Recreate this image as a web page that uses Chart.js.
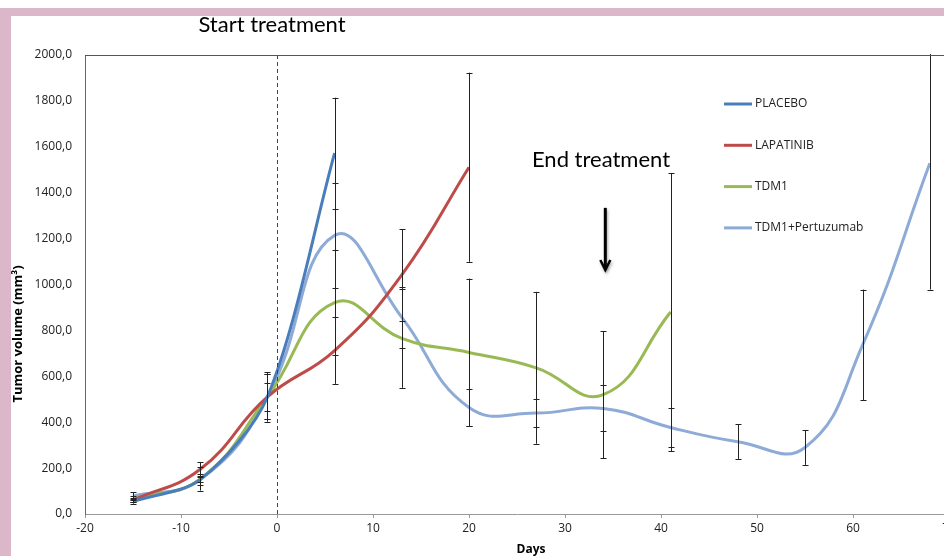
<!DOCTYPE html>
<html>
<head>
<meta charset="utf-8">
<script src="https://cdn.jsdelivr.net/npm/chart.js@4/dist/chart.umd.min.js"></script>
<style>
  html, body { margin: 0; padding: 0; background: #fff; }
  #wrap { position: relative; width: 944px; height: 556px; overflow: hidden; }
  .pink { position: absolute; background: #dcb7c9; }
  canvas { position: absolute; left: 0; top: 0; }
</style>
</head>
<body>
<div id="wrap">
  <div class="pink" style="left:0;top:8px;width:944px;height:8px"></div>
  <div class="pink" style="left:0;top:8px;width:11px;height:548px"></div>
  <canvas id="myChart" width="960" height="556"></canvas>
</div>
<script>
// days of measurement
const days = [-15, -8, -1, 6, 13, 20, 27, 34, 41, 48, 55, 61, 68];

// mean tumor volume (mm3) per group
const placebo = [55, 150, 510, 1572];
const lapatinib = [60, 195, 510, 712, 1042, 1511];
const tdm1 = [65, 153, 510, 921, 765, 704, 637, 520, 880];
const tdm1Pertuzumab = [78, 150, 510, 1214, 857, 464, 440, 460, 377, 315, 290, 737, 1528];

// error bar (+/-) per point
const placeboErr = [10, 25, 62, 242];
const lapatinibErr = [8, 30, 108, 145, 200, 412];
const tdm1Err = [12, 51, 98, 229, 215, 322, 331, 276, 606];
const tdm1PertuzumabErr = [16, 10, 98, 229, 133, 82, 62, 100, 86, 75, 76, 241, 550];

const names = ['PLACEBO', 'LAPATINIB', 'TDM1', 'TDM1+Pertuzumab'];
const colors = ['#4a7ebb', '#be4b48', '#98b954', '#8eaad6'];
const tensions = [0.3, 0.45, 0.45, 0.45];

const treatmentStart = 0;
const treatmentEnd = 34.2;

const series = [placebo, lapatinib, tdm1, tdm1Pertuzumab];
const errors = [placeboErr, lapatinibErr, tdm1Err, tdm1PertuzumabErr];

const fmt = (v) => v.toFixed(1).replace('.', ',');

const annotations = {
    id: 'annotations',
    afterDatasetsDraw(chart) {
        const { ctx, chartArea, scales: { x, y } } = chart;

        // error bars
        ctx.save();
        ctx.beginPath();
        ctx.rect(chartArea.left, chartArea.top - 1, chartArea.right - chartArea.left, chartArea.bottom - chartArea.top + 2);
        ctx.clip();
        ctx.strokeStyle = '#222';
        ctx.lineWidth = 1;
        series.forEach((vals, s) => {
            vals.forEach((v, i) => {
                const px = Math.round(x.getPixelForValue(days[i])) + 0.5;
                const top = y.getPixelForValue(v + errors[s][i]);
                const bot = y.getPixelForValue(v - errors[s][i]);
                ctx.beginPath();
                ctx.moveTo(px, top);
                ctx.lineTo(px, bot);
                ctx.moveTo(px - 3, Math.round(top) + 0.5);
                ctx.lineTo(px + 3, Math.round(top) + 0.5);
                ctx.moveTo(px - 3, Math.round(bot) + 0.5);
                ctx.lineTo(px + 3, Math.round(bot) + 0.5);
                ctx.stroke();
            });
        });
        ctx.restore();

        // start of treatment
        ctx.save();
        const sx = Math.round(x.getPixelForValue(treatmentStart)) + 0.5;
        ctx.strokeStyle = '#444';
        ctx.lineWidth = 1;
        ctx.setLineDash([4, 3]);
        ctx.beginPath();
        ctx.moveTo(sx, chartArea.top);
        ctx.lineTo(sx, chartArea.bottom);
        ctx.stroke();
        ctx.restore();

        // plot box top line
        ctx.save();
        ctx.strokeStyle = '#555';
        ctx.lineWidth = 1;
        ctx.beginPath();
        ctx.moveTo(chartArea.left, chartArea.top + 0.5);
        ctx.lineTo(chartArea.right, chartArea.top + 0.5);
        ctx.stroke();
        ctx.restore();

        // end of treatment arrow
        ctx.save();
        const ax = x.getPixelForValue(treatmentEnd);
        const ay1 = y.getPixelForValue(1334);
        const ay2 = y.getPixelForValue(1063);
        ctx.shadowColor = 'rgba(0,0,0,0.35)';
        ctx.shadowBlur = 3;
        ctx.shadowOffsetX = 1;
        ctx.shadowOffsetY = 2;
        ctx.strokeStyle = '#000';
        ctx.lineWidth = 3;
        ctx.beginPath();
        ctx.moveTo(ax, ay1);
        ctx.lineTo(ax, ay2 - 2);
        ctx.stroke();
        ctx.lineWidth = 2.5;
        ctx.beginPath();
        ctx.moveTo(ax - 5, ay2 - 10);
        ctx.lineTo(ax, ay2);
        ctx.lineTo(ax + 5, ay2 - 10);
        ctx.stroke();
        ctx.restore();

        // texts
        ctx.save();
        ctx.fillStyle = '#000';
        ctx.font = '22px Lato';
        ctx.textAlign = 'center';
        ctx.textBaseline = 'middle';
        ctx.fillText('Start treatment', 272, 25);
        ctx.fillText('End treatment', 601, 160);

        ctx.font = 'bold 12px "Open Sans"';
        ctx.fillText('Days', 531, 550);

        ctx.font = 'bold 13px "Open Sans"';
        ctx.translate(18, 334);
        ctx.rotate(-Math.PI / 2);
        ctx.fillText('Tumor volume (mm³)', 0, 0);
        ctx.restore();

        // legend
        ctx.save();
        ctx.font = '12px "Open Sans"';
        ctx.textBaseline = 'middle';
        ctx.textAlign = 'left';
        names.forEach((n, i) => {
            const ly = 104 + i * 41.3;
            ctx.strokeStyle = colors[i];
            ctx.lineWidth = 3;
            ctx.beginPath();
            ctx.moveTo(724, ly);
            ctx.lineTo(752, ly);
            ctx.stroke();
            ctx.fillStyle = '#222';
            ctx.fillText(n, 755, ly);
        });
        ctx.restore();
    }
};

const data = {
    datasets: series.map((vals, s) => ({
        label: names[s],
        data: vals.map((v, i) => ({ x: days[i], y: v })),
        borderColor: colors[s],
        backgroundColor: colors[s],
        borderWidth: 3,
        pointRadius: 0,
        tension: tensions[s],
        fill: false
    }))
};

const config = {
    type: 'line',
    data: data,
    options: {
        responsive: false,
        animation: false,
        layout: {
            padding: { top: 55, right: 11, left: 0, bottom: 0 }
        },
        plugins: {
            legend: { display: false },
            tooltip: { enabled: false }
        },
        scales: {
            x: {
                type: 'linear',
                min: -20,
                max: 70,
                ticks: {
                    stepSize: 10,
                    padding: 3,
                    color: '#222',
                    font: { family: '"Open Sans"', size: 12 }
                },
                grid: {
                    drawOnChartArea: false,
                    drawTicks: true,
                    tickLength: 4,
                    color: '#999'
                },
                border: { color: '#999' },
                afterFit(scale) { scale.height = 42; }
            },
            y: {
                min: 0,
                max: 2000,
                ticks: {
                    stepSize: 200,
                    padding: 13,
                    color: '#222',
                    font: { family: '"Open Sans"', size: 12 },
                    callback: (v) => fmt(v)
                },
                grid: { display: false, drawTicks: false },
                border: { display: true, color: '#666' },
                afterFit(scale) { scale.width = 85; }
            }
        }
    },
    plugins: [annotations]
};

const myChart = new Chart(document.getElementById('myChart'), config);
</script>
</body>
</html>
